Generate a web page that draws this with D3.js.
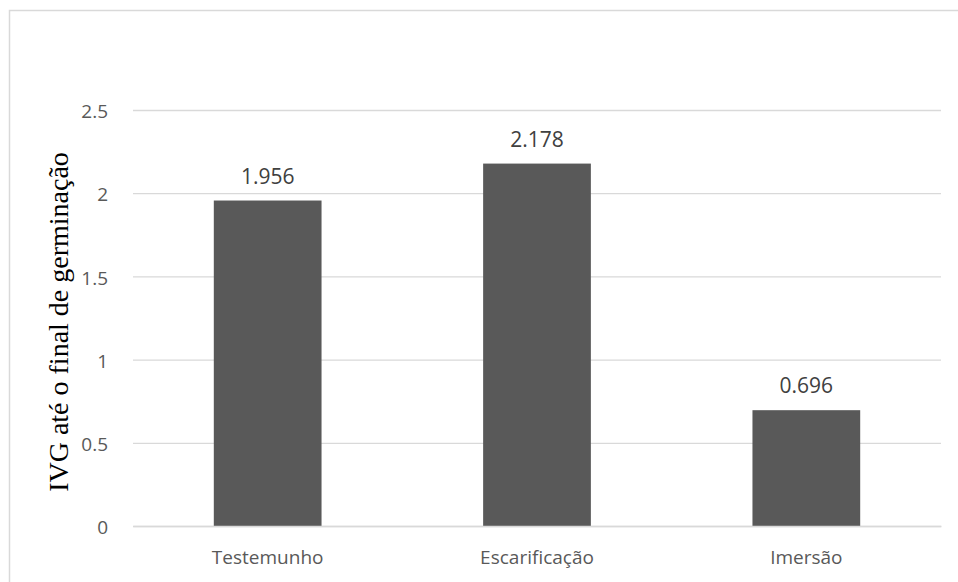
<!DOCTYPE html>
<html>
<head>
<meta charset="utf-8">
<script src="https://cdn.jsdelivr.net/npm/d3@7"></script>
<style>
  body { margin: 0; background: #fff; }
  .tick text { font-family: "Open Sans", sans-serif; fill: #595959; }
</style>
</head>
<body>
<div id="chart"></div>
<script>
var categories = ["Testemunho", "Escarificação", "Imersão"]
var values = [1.956, 2.178, 0.696]
var yTicks = [0, 0.5, 1, 1.5, 2, 2.5]
var yTitle = "IVG até o final de germinação"

var fullWidth = 958
var fullHeight = 582
var margin = { top: 110, right: 17, bottom: 56, left: 133 }
var width = fullWidth - margin.left - margin.right
var height = fullHeight - margin.top - margin.bottom

var svg = d3.select("#chart").append("svg")
  .attr("width", fullWidth)
  .attr("height", fullHeight)

// chart area frame
svg.append("rect")
  .attr("x", 9.5)
  .attr("y", 10.5)
  .attr("width", 980)
  .attr("height", 620)
  .attr("fill", "#fff")
  .attr("stroke", "#d9d9d9")
  .attr("stroke-width", 1.5)

var g = svg.append("g")
  .attr("transform", `translate(${margin.left},${margin.top})`)

var x = d3.scaleBand()
  .domain(categories)
  .range([0, width])
  .paddingInner(0.6)
  .paddingOuter(0.3)

var y = d3.scaleLinear()
  .domain([0, 2.5])
  .range([height, 0])

// gridlines
g.append("g")
  .attr("class", "grid")
  .call(d3.axisLeft(y).tickValues(yTicks).tickSize(-width).tickFormat(""))
  .call(s => s.select(".domain").remove())
  .call(s => s.selectAll("line").attr("stroke", "#d9d9d9").attr("stroke-width", 1.3))

// y axis labels
g.append("g")
  .attr("class", "axis axis-y")
  .call(d3.axisLeft(y).tickValues(yTicks).tickSize(0).tickPadding(25).tickFormat(d3.format("")))
  .call(s => s.select(".domain").remove())
  .call(s => s.selectAll("text").attr("font-size", "19px").attr("dy", "0.4em"))

// bars
g.selectAll(".bar")
  .data(values)
  .enter().append("rect")
  .attr("class", "bar")
  .attr("x", (d, i) => x(categories[i]))
  .attr("y", d => y(d))
  .attr("width", x.bandwidth())
  .attr("height", d => height - y(d))
  .attr("fill", "#595959")

// value labels
g.selectAll(".value")
  .data(values)
  .enter().append("text")
  .attr("class", "value")
  .attr("x", (d, i) => x(categories[i]) + x.bandwidth() / 2)
  .attr("y", d => y(d) - 17)
  .attr("text-anchor", "middle")
  .attr("font-family", "Open Sans, sans-serif")
  .attr("font-size", "21px")
  .attr("fill", "#404040")
  .text(d => d3.format(".3f")(d))

// x axis
g.append("g")
  .attr("class", "axis axis-x")
  .attr("transform", `translate(0,${height})`)
  .call(d3.axisBottom(x).tickSize(0).tickPadding(25))
  .call(s => s.select(".domain").attr("stroke", "#d9d9d9").attr("stroke-width", 1.3))
  .call(s => s.selectAll("text").attr("font-size", "19px"))

// y axis title
svg.append("text")
  .attr("transform", "rotate(-90)")
  .attr("x", -322)
  .attr("y", 68)
  .attr("text-anchor", "middle")
  .attr("font-family", "Liberation Serif, Times New Roman, serif")
  .attr("font-size", "28px")
  .attr("fill", "#000")
  .text(yTitle)
</script>
</body>
</html>
